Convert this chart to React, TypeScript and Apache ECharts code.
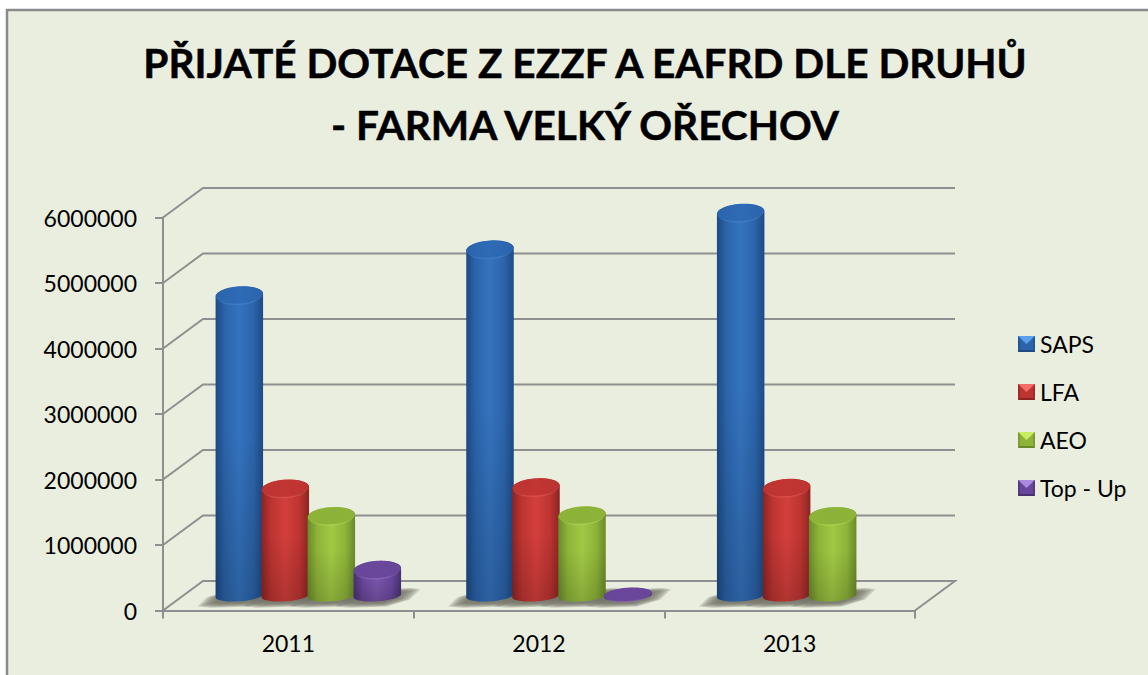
import React, { useEffect, useRef } from "react";
import * as echarts from "echarts";

const titleLines = ["PŘIJATÉ DOTACE Z EZZF A EAFRD DLE DRUHŮ", "- FARMA VELKÝ OŘECHOV"];
const years = ["2011", "2012", "2013"];
const seriesNames = ["SAPS", "LFA", "AEO", "Top - Up"];
const saps = [4590000, 5290000, 5850000];
const lfa = [1640000, 1660000, 1650000];
const aeo = [1220000, 1230000, 1220000];
const topUp: (number | null)[] = [400000, 20000, null];
const yTicks = [0, 1000000, 2000000, 3000000, 4000000, 5000000, 6000000];

const seriesValues = [saps, lfa, aeo, topUp];

const palette = [
  { dark: "#1D4A85", mid: "#2B64AB", light: "#3573BE", top: "#2E6BB6", rim: "#4C8AD3", pale: "#5AA0EA" },
  { dark: "#8C2422", mid: "#BC3431", light: "#D33F3C", top: "#C13533", rim: "#DF5F5B", pale: "#F56B66" },
  { dark: "#6A8A2A", mid: "#8DB338", light: "#A1C945", top: "#8CB239", rim: "#B5DA5A", pale: "#C8EC62" },
  { dark: "#483070", mid: "#68469A", light: "#7A55AB", top: "#6A479A", rim: "#9272C2", pale: "#A98AE0" },
];

const FONT = "Lato";
const AXIS_COLOR = "#8F8F8F";
const DEPTH_X = 40;
const DEPTH_Y = -29.5;
const RX = 23.8;
const RY_TOP = 8.8;
const RY_BOTTOM = 5.6;
const TILT = (-4 * Math.PI) / 180;
const SLOT_RATIO = 46 / 250.67;

function arc(cx: number, cy: number, rx: number, ry: number, from: number, to: number) {
  const pts: number[][] = [];
  const n = 36;
  for (let i = 0; i <= n; i++) {
    const t = from + ((to - from) * i) / n;
    const ex = rx * Math.cos(t);
    const ey = ry * Math.sin(t);
    pts.push([cx + ex * Math.cos(TILT) - ey * Math.sin(TILT), cy + ex * Math.sin(TILT) + ey * Math.cos(TILT)]);
  }
  return pts;
}

function barCentre(api: any, cat: number, slot: number, value: number) {
  const band = api.size([1, 0])[0];
  const p = api.coord([cat, value]);
  return [p[0] + DEPTH_X / 2 + (slot - 1.5) * band * SLOT_RATIO, p[1] + DEPTH_Y / 2];
}

const renderWalls = (_p: any, api: any) => {
  const v = api.value(0);
  const a = api.coord([0, v]);
  const b = api.coord([2, v]);
  const band = api.size([1, 0])[0];
  const x0 = a[0] - band / 2;
  const x1 = b[0] + band / 2;
  const y = a[1];
  const pts = [
    [x0, y],
    [x0 + DEPTH_X, y + DEPTH_Y],
    [x1 + DEPTH_X, y + DEPTH_Y],
  ];
  if (v === 0) pts.push([x1, y]);
  return {
    type: "polyline",
    shape: { points: pts },
    style: { stroke: AXIS_COLOR, lineWidth: 2, fill: "none" },
    silent: true,
  };
};

const SHADOW_LAYERS = [1.16, 1.08, 1.0, 0.92, 0.84, 0.76, 0.68];

const renderShadow = (_p: any, api: any) => {
  const c = barCentre(api, api.value(0), api.value(1), 0);
  const cx = c[0];
  const cy = c[1] + 1.5;
  const shape = [
    [-36, 8],
    [-28, 0],
    [-8, -6],
    [30, -8],
    [37, -7],
    [28, 2],
    [8, 8],
    [-24, 9],
  ];
  return {
    type: "group",
    silent: true,
    children: SHADOW_LAYERS.map((s) => ({
      type: "polygon",
      shape: { points: shape.map((p) => [cx + p[0] * s, cy + p[1] * s]) },
      style: { fill: "#6F7064", opacity: 0.26 },
    })),
  };
};

const makeRenderBar = (slot: number) => (_p: any, api: any) => {
  const cat = api.value(0);
  const val = api.value(1);
  const c = palette[slot];
  const base = barCentre(api, cat, slot, 0);
  const top = barCentre(api, cat, slot, val);
  const cx = base[0];
  const ry = Math.min(RY_TOP, RY_TOP * 0.75 + Math.abs(base[1] - top[1]) * 0.15);
  const body = [
    ...arc(cx, base[1], RX, RY_BOTTOM, 0, Math.PI),
    ...arc(cx, top[1], RX, ry, Math.PI, Math.PI * 2),
  ];
  const sideFill = new echarts.graphic.LinearGradient(0, 0, 1, 0, [
    { offset: 0, color: c.dark },
    { offset: 0.2, color: c.mid },
    { offset: 0.5, color: c.light },
    { offset: 0.8, color: c.mid },
    { offset: 1, color: c.dark },
  ]);
  const shade = new echarts.graphic.LinearGradient(0, 0, 0, 1, [
    { offset: 0, color: "rgba(0,0,0,0)" },
    { offset: 0.45, color: "rgba(0,0,0,0)" },
    { offset: 1, color: "rgba(0,0,0,0.16)" },
  ]);
  const topFill = new echarts.graphic.LinearGradient(0, 0, 1, 0, [
    { offset: 0, color: c.mid },
    { offset: 0.5, color: c.top },
    { offset: 1, color: c.mid },
  ]);
  return {
    type: "group",
    silent: true,
    children: [
      { type: "polygon", shape: { points: body }, style: { fill: sideFill } },
      { type: "polygon", shape: { points: body }, style: { fill: shade } },
      { type: "polygon", shape: { points: arc(cx, top[1] + 1.2, RX - 1.5, ry, 0, Math.PI * 2) }, style: { fill: c.rim, opacity: 0.45 } },
      { type: "polygon", shape: { points: arc(cx, top[1], RX - 0.2, ry - 0.4, 0, Math.PI * 2) }, style: { fill: topFill } },
    ],
  };
};

const LEGEND_X = 1018;
const LEGEND_TOP = 336;
const LEGEND_STEP = 48;
const LEGEND_ICON = 17;

function legendBevels() {
  const out: any[] = [];
  seriesNames.forEach((_n, i) => {
    const x = LEGEND_X;
    const y = LEGEND_TOP + i * LEGEND_STEP;
    const s = LEGEND_ICON;
    const h = 16;
    const c = palette[i];
    out.push({
      type: "polygon", z: 20, silent: true,
      shape: { points: [[x, y], [x + s, y], [x + s / 2, y + h * 0.5]] },
      style: { fill: c.pale },
    });
    out.push({
      type: "polygon", z: 20, silent: true,
      shape: { points: [[x, y + h], [x + s, y + h], [x + s - 2, y + h - 2], [x + 2, y + h - 2]] },
      style: { fill: c.dark },
    });
    out.push({
      type: "polygon", z: 20, silent: true,
      shape: { points: [[x, y], [x + 2, y + 2], [x + 2, y + h - 2], [x, y + h]] },
      style: { fill: c.dark, opacity: 0.55 },
    });
    out.push({
      type: "polygon", z: 20, silent: true,
      shape: { points: [[x + s, y], [x + s - 2, y + 2], [x + s - 2, y + h - 2], [x + s, y + h]] },
      style: { fill: c.dark, opacity: 0.55 },
    });
  });
  return out;
}

export default function App() {
  const ref = useRef<HTMLDivElement>(null);
  useEffect(() => {
    document.body.style.margin = "0";
    const chart = echarts.init(ref.current!, undefined, { renderer: "svg" });
    const shadowData: number[][] = [];
    seriesValues.forEach((vals, s) =>
      vals.forEach((v, c) => {
        if (v !== null) shadowData.push([c, s]);
      })
    );
    chart.setOption({
      animation: false,
      backgroundColor: "#FFFFFF",
      textStyle: { fontFamily: FONT },
      title: {
        text: titleLines.join("\n"),
        left: 580,
        top: 26,
        textAlign: "center",
        textStyle: {
          fontFamily: FONT, fontWeight: "bold", fontSize: 40.6, lineHeight: 62, color: "#000000",
          textBorderColor: "#000000", textBorderWidth: 0.5,
        },
      },
      grid: { left: 163, right: 233, top: 217.5, bottom: 64.5 },
      tooltip: { show: false },
      legend: {
        orient: "vertical",
        left: LEGEND_X,
        top: LEGEND_TOP - 3.5,
        padding: 0,
        itemWidth: LEGEND_ICON,
        itemHeight: 16,
        itemGap: 25,
        icon: "rect",
        selectedMode: false,
        data: seriesNames,
        textStyle: { fontFamily: FONT, fontSize: 23, color: "#000000" },
      },
      xAxis: {
        type: "category",
        data: years,
        axisLine: { show: true, lineStyle: { color: AXIS_COLOR, width: 2 } },
        axisTick: { show: true, length: 8, lineStyle: { color: AXIS_COLOR, width: 2 } },
        axisLabel: { fontFamily: FONT, fontSize: 23, color: "#000000", margin: 21 },
      },
      yAxis: {
        type: "value",
        min: 0,
        max: 6000000,
        interval: 1000000,
        splitLine: { show: false },
        axisLine: { show: true, lineStyle: { color: AXIS_COLOR, width: 2 } },
        axisTick: { show: true, length: 8, lineStyle: { color: AXIS_COLOR, width: 2 } },
        axisLabel: { fontFamily: FONT, fontSize: 23, color: "#000000", margin: 26, formatter: (v: number) => String(v) },
      },
      graphic: [
        {
          type: "rect", z: -10, silent: true,
          shape: { x: 7, y: 10, width: 1300, height: 800 },
          style: { fill: "#EAEEDF", stroke: "#8A8A8A", lineWidth: 2.5 },
        },
        ...legendBevels(),
      ],
      series: [
        {
          type: "custom",
          coordinateSystem: "cartesian2d",
          renderItem: renderWalls,
          data: yTicks.map((t) => [t]),
          encode: { y: 0 },
          z: 1,
          clip: false,
        },
        {
          type: "custom",
          coordinateSystem: "cartesian2d",
          renderItem: renderShadow,
          data: shadowData,
          encode: { x: 0 },
          z: 2,
          clip: false,
        },
        ...seriesNames.map((name, s) => ({
          type: "custom",
          name,
          coordinateSystem: "cartesian2d",
          renderItem: makeRenderBar(s),
          itemStyle: { color: palette[s].mid },
          data: seriesValues[s]
            .map((v, c) => [c, v])
            .filter((d) => d[1] !== null),
          encode: { x: 0, y: 1 },
          z: 3 + s,
          clip: false,
        })),
      ],
    });
    return () => chart.dispose();
  }, []);
  return <div ref={ref} style={{ position: "absolute", left: 0, top: 0, width: 1148, height: 675 }} />;
}
